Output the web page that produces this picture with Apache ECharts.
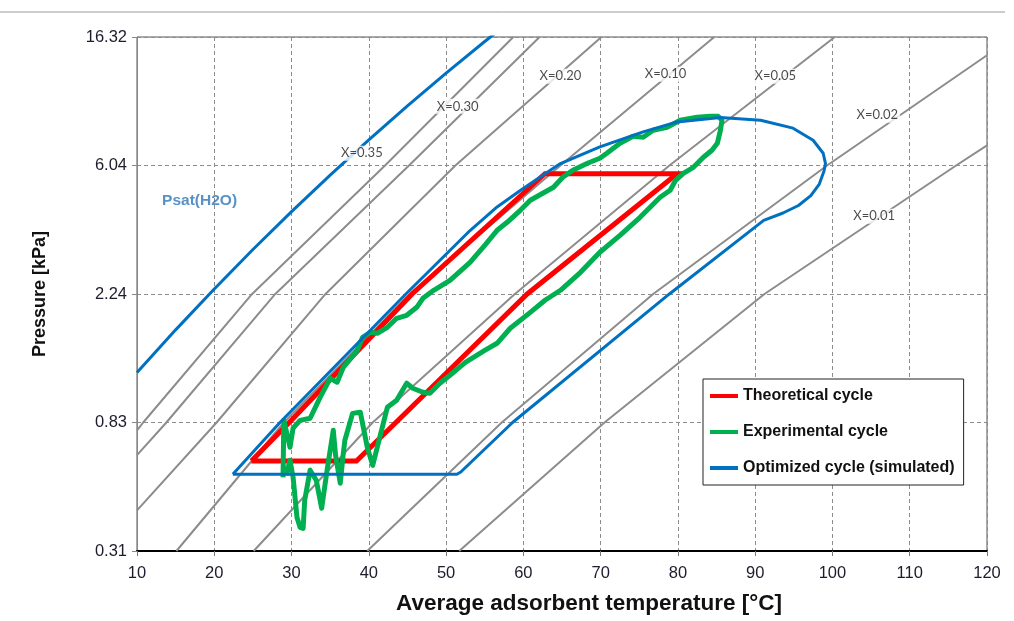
<!DOCTYPE html>
<html>
<head>
<meta charset="utf-8">
<script src="https://cdn.jsdelivr.net/npm/echarts@6/dist/echarts.min.js"></script>
<style>
  html, body { margin: 0; padding: 0; background: #fff; }
  #chart { width: 1014px; height: 621px; }
</style>
</head>
<body>
<div id="chart"></div>
<script>
// y axis is logarithmic, 4 equal steps between 0.31 and 16.32 kPa
var P_MIN = 0.31, P_MAX = 16.32;
var yTickLabels = ['0.31', '0.83', '2.24', '6.04', '16.32'];

// saturation pressure of water
var psatT = [10, 15, 20, 25, 30, 35, 40, 45, 50, 55, 60];
var psatP = [1.228, 1.706, 2.339, 3.169, 4.246, 5.628, 7.384, 9.593, 12.35, 15.76, 19.95];

// isosteres (grey lines), T in °C, P in kPa
var iso35T = [10, 10.8, 24.9, 42.1, 58.7];
var iso35P = [0.786, 0.835, 2.25, 6.06, 16.32];
var iso30T = [10, 13.8, 27.9, 45.2, 62.1];
var iso30P = [0.649, 0.835, 2.25, 6.06, 16.32];
var iso20T = [10, 20.3, 34.4, 51.2, 70.1];
var iso20P = [0.424, 0.835, 2.25, 6.06, 16.32];
var iso10T = [15.1, 29.0, 45.3, 64.8, 84.7];
var iso10P = [0.31, 0.835, 2.25, 6.06, 16.32];
var iso05T = [25.1, 40.5, 58.9, 78.9, 100.3];
var iso05P = [0.31, 0.835, 2.25, 6.06, 16.32];
var iso02T = [39.8, 57.2, 76.8, 99.3, 120];
var iso02P = [0.31, 0.835, 2.25, 6.06, 14.18];
var iso01T = [51.7, 70.5, 91.2, 116.0, 120];
var iso01P = [0.31, 0.835, 2.25, 6.06, 7.08];

var isoLabels = ['X=0.35', 'X=0.30', 'X=0.20', 'X=0.10', 'X=0.05', 'X=0.02', 'X=0.01'];
var isoLabelT = [39.1, 51.5, 64.8, 78.4, 92.6, 105.8, 105.4];
var isoLabelP = [6.66, 9.56, 12.06, 12.24, 12.06, 8.93, 4.10];

// theoretical cycle
var theoT = [24.8, 38.4, 43.5, 60.5, 79.9, 62.8, 45.6, 29.7, 24.8];
var theoP = [0.62, 0.62, 0.835, 2.25, 5.69, 5.69, 2.25, 0.835, 0.62];

// experimental cycle
var expT = [28.9, 29.0, 29.8, 30.2, 31.1, 32.4, 33.7, 35.0, 35.9, 36.7, 38.5, 39.2, 40.2, 41.1, 42.4, 43.6,
  44.9, 46.2, 47.0, 48.4, 50.5, 53.1, 55.0, 56.6, 57.9, 59.6, 60.9, 63.9, 65.1, 66.4, 68.3, 69.9, 70.8,
  72.5, 74.2, 75.5, 76.8, 78.6, 80.3, 82.5, 84.2, 85.2, 85.7, 85.5, 85.1, 84.4, 83.3, 82.0, 80.7, 79.7,
  79.0, 77.7, 76.4, 75.1, 72.5, 69.9, 67.4, 64.8, 62.8, 60.9, 58.3, 56.6, 55.0, 52.5, 50.5, 49.2, 47.9,
  47.0, 45.7, 44.9, 43.6, 42.4, 40.5, 39.8, 38.9, 37.9, 36.9, 36.7, 36.3, 35.7, 35.4, 34.6, 33.9, 33.2,
  32.4, 31.7, 31.5, 31.1, 30.7, 30.2, 29.8, 29.3];
var expP = [0.547, 0.849, 0.690, 0.799, 0.849, 0.863, 1.014, 1.174, 1.139, 1.278, 1.457, 1.611, 1.674,
  1.661, 1.740, 1.865, 1.909, 2.030, 2.176, 2.315, 2.500, 2.872, 3.275, 3.676, 3.910, 4.289, 4.633,
  5.122, 5.532, 5.839, 6.163, 6.405, 6.657, 7.190, 7.589, 7.531, 7.948, 8.134, 8.585, 8.786, 8.854,
  8.854, 8.585, 7.948, 7.190, 6.812, 6.454, 5.975, 5.705, 5.405, 5.004, 4.741, 4.390, 4.064, 3.537,
  3.103, 2.659, 2.315, 2.143, 1.953, 1.727, 1.538, 1.457, 1.328, 1.202, 1.130, 1.046, 1.054, 1.087,
  1.130, 0.991, 0.939, 0.600, 0.690, 0.903, 0.896, 0.728, 0.659, 0.523, 0.648, 0.786, 0.578, 0.431,
  0.535, 0.578, 0.458, 0.369, 0.372, 0.402, 0.547, 0.624, 0.556];

// optimized cycle (simulated)
var optT = [22.4, 28.5, 44.8, 53.1, 56.6, 59.6, 62.8, 64.8, 69.9, 75.5, 79.9, 85.5, 90.7, 94.9, 97.5,
  98.8, 99.1, 98.9, 98.3, 97.2, 95.6, 93.6, 91.1, 78.9, 58.6, 51.9, 51.4, 22.4];
var optP = [0.56, 0.835, 2.25, 3.67, 4.40, 5.00, 5.69, 6.15, 6.99, 7.85, 8.48, 8.77, 8.59, 8.08, 7.36,
  6.66, 6.15, 5.80, 5.25, 4.80, 4.45, 4.20, 3.97, 2.25, 0.835, 0.57, 0.56, 0.56];

function lv(p) {
  return Math.log(p / P_MIN) / Math.log(P_MAX / P_MIN) * 4;
}
function pts(T, P) {
  return T.map(function (t, i) { return [t, lv(P[i])]; });
}

var FONT = 'Liberation Sans';
var myChart = echarts.init(document.getElementById('chart'), null, { renderer: 'canvas' });

function isoSeries(T, P) {
  return {
    type: 'line', data: pts(T, P), showSymbol: false, symbol: 'none', silent: true,
    lineStyle: { color: '#8c8c8c', width: 2 }, z: 2
  };
}

var labelData = isoLabels.map(function (s, i) {
  return { name: s, value: [isoLabelT[i], lv(isoLabelP[i])] };
});
labelData.push({
  name: 'Psat(H2O)', value: [18.1, lv(4.63)],
  label: { color: '#2e75b6', fontWeight: 'bold', fontSize: 15.5, fontFamily: FONT, backgroundColor: 'transparent' }
});

var option = {
  animation: false,
  graphic: [{
    type: 'line', shape: { x1: 0, y1: 12, x2: 1005, y2: 12 },
    style: { stroke: '#9a9a9a', lineWidth: 1 }
  }],
  grid: {
    left: 137, right: 27, top: 37, bottom: 70,
    show: true, borderColor: '#555', borderWidth: 1
  },
  legend: {
    data: ['Theoretical cycle', 'Experimental cycle', 'Optimized cycle (simulated)'],
    orient: 'vertical', left: 703, top: 379,
    icon: 'rect', itemWidth: 28, itemHeight: 4, itemGap: 20,
    padding: [9, 9, 9, 7],
    backgroundColor: '#fff', borderColor: '#222', borderWidth: 1,
    textStyle: { fontFamily: FONT, fontWeight: 'bold', fontSize: 16, color: '#111', lineHeight: 16 }
  },
  xAxis: {
    type: 'value', min: 10, max: 120, interval: 10,
    name: 'Average adsorbent temperature [°C]', nameLocation: 'middle', nameGap: 41,
    nameTextStyle: {
      fontFamily: FONT, fontWeight: 'bold', fontSize: 22.5, color: '#111',
      padding: [0, 0, 0, 54]
    },
    axisLine: { lineStyle: { color: '#000', width: 2 } },
    axisTick: { length: 5, lineStyle: { color: '#777' } },
    axisLabel: { fontFamily: FONT, fontSize: 16.5, color: '#1c1c2c', margin: 14 },
    splitLine: { lineStyle: { color: '#8c8c8c', type: [4, 3], width: 1 } }
  },
  yAxis: {
    type: 'value', min: 0, max: 4, interval: 1,
    name: 'Pressure [kPa]', nameLocation: 'middle', nameGap: 88,
    nameTextStyle: { fontFamily: FONT, fontWeight: 'bold', fontSize: 18, color: '#111' },
    axisLine: { show: true, lineStyle: { color: '#888', width: 1 } },
    axisTick: { show: true, length: 5, lineStyle: { color: '#888' } },
    axisLabel: {
      fontFamily: FONT, fontSize: 16.5, color: '#1c1c2c', margin: 10,
      formatter: function (v) { return yTickLabels[Math.round(v)]; }
    },
    splitLine: { lineStyle: { color: '#8c8c8c', type: [4, 3], width: 1 } }
  },
  series: [
    {
      type: 'line', name: 'Psat', data: pts(psatT, psatP), showSymbol: false, symbol: 'none',
      lineStyle: { color: '#0070c0', width: 3 }, z: 3
    },
    isoSeries(iso35T, iso35P),
    isoSeries(iso30T, iso30P),
    isoSeries(iso20T, iso20P),
    isoSeries(iso10T, iso10P),
    isoSeries(iso05T, iso05P),
    isoSeries(iso02T, iso02P),
    isoSeries(iso01T, iso01P),
    {
      type: 'line', name: 'Theoretical cycle', data: pts(theoT, theoP), showSymbol: false, symbol: 'none',
      itemStyle: { color: '#ff0000' }, lineStyle: { color: '#ff0000', width: 5, join: 'miter' }, z: 4
    },
    {
      type: 'line', name: 'Experimental cycle', data: pts(expT, expP), showSymbol: false, symbol: 'none',
      itemStyle: { color: '#00b050' }, lineStyle: { color: '#00b050', width: 5, join: 'round' }, z: 5
    },
    {
      type: 'line', name: 'Optimized cycle (simulated)', data: pts(optT, optP), showSymbol: false,
      symbol: 'none',
      itemStyle: { color: '#0070c0' }, lineStyle: { color: '#0070c0', width: 3, join: 'round' }, z: 6
    },
    {
      type: 'scatter', data: labelData, symbolSize: 0, silent: true, z: 10,
      label: {
        show: true, position: 'inside', formatter: '{b}',
        fontFamily: 'Lato', fontSize: 13, color: '#1c1c1c',
        backgroundColor: '#fff', padding: [1, 2]
      }
    }
  ]
};
myChart.setOption(option);
</script>
</body>
</html>
